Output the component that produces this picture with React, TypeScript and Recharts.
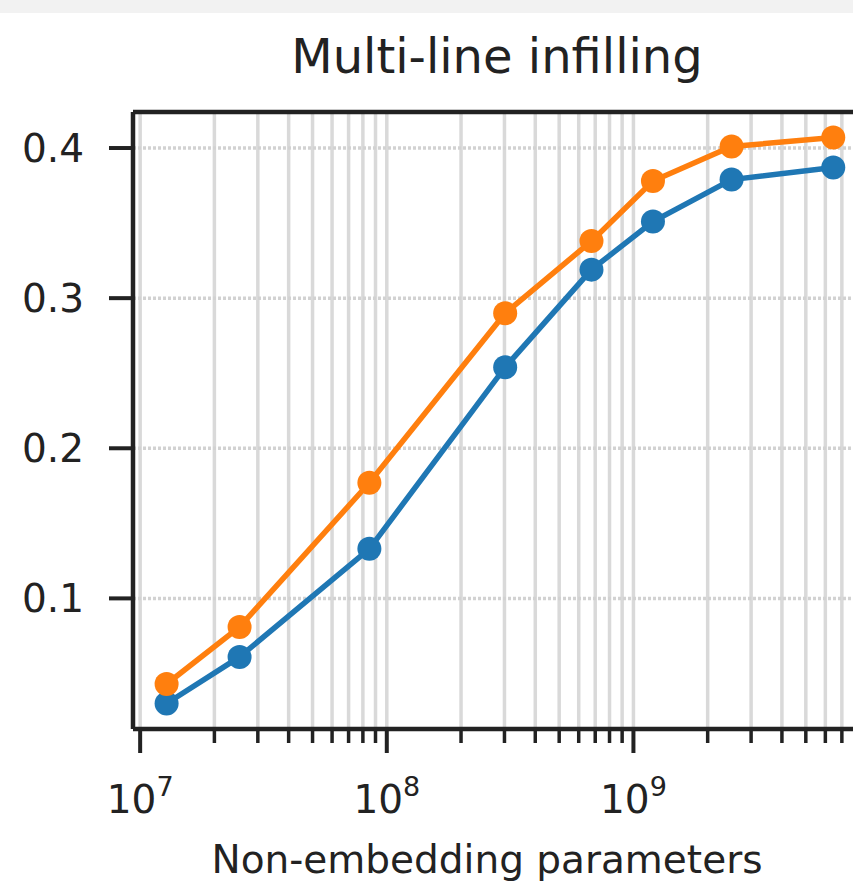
import React from 'react'
import { LineChart, Line, XAxis, YAxis, CartesianGrid, ReferenceLine } from 'recharts'

const PARAMS = [1.28e7, 2.53e7, 8.5e7, 3.02e8, 6.76e8, 1.2e9, 2.5e9, 6.46e9]
const BLUE = [0.030, 0.061, 0.133, 0.254, 0.319, 0.351, 0.379, 0.387]
const ORANGE = [0.043, 0.081, 0.177, 0.290, 0.338, 0.378, 0.401, 0.407]

const X_MAJOR = [1e7, 1e8, 1e9]
const X_MINOR = [
  2e7, 3e7, 4e7, 5e7, 6e7, 7e7, 8e7, 9e7,
  2e8, 3e8, 4e8, 5e8, 6e8, 7e8, 8e8, 9e8,
  2e9, 3e9, 4e9, 5e9, 6e9, 7e9, 8e9,
]
const Y_TICKS = [0.1, 0.2, 0.3, 0.4]

const X_DOMAIN = [Math.pow(10, 6.971), Math.pow(10, 9.945)]
const Y_DOMAIN = [0.013, 0.424]

const data = PARAMS.map((p, i) => ({ params: p, blue: BLUE[i], orange: ORANGE[i] }))

const FONT = '"DejaVu Sans", sans-serif'
const INK = '#222'

function XTick(props: any) {
  const { x, y, payload } = props
  const major = X_MAJOR.includes(payload.value)
  const exp = Math.round(Math.log10(payload.value))
  return (
    <g>
      <line x1={x} x2={x} y1={y} y2={y + (major ? 24 : 14)} stroke={INK} strokeWidth={major ? 4 : 3.5} />
      {major && (
        <text x={x} y={y + 84} textAnchor="middle" fontFamily={FONT} fontSize={39} fill={INK}>
          <tspan>10</tspan>
          <tspan dy={-17} fontSize={27}>{exp}</tspan>
        </text>
      )}
    </g>
  )
}

function YTick(props: any) {
  const { x, y, payload } = props
  return (
    <g>
      <line x1={x - 24} x2={x} y1={y} y2={y} stroke={INK} strokeWidth={4} />
      <text x={x - 49} y={y + 14} textAnchor="end" fontFamily={FONT} fontSize={39} fill={INK}>
        {payload.value.toFixed(1)}
      </text>
    </g>
  )
}

export default function App() {
  return (
    <div style={{ position: 'relative', width: 853, height: 891, overflow: 'hidden', background: '#fff' }}>
      <style>{'body{margin:0}'}</style>
      <div style={{ position: 'absolute', left: 0, top: 0, width: 853, height: 13, background: '#f2f2f2' }} />
      <div style={{ position: 'absolute', left: 0, top: 0 }}>
        <LineChart width={870} height={891} data={data} margin={{ top: 112, right: 3.5, bottom: 0, left: 0 }}>
          <CartesianGrid
            horizontal={false}
            vertical
            verticalValues={[...X_MAJOR, ...X_MINOR]}
            stroke="#d9d9d9"
            strokeWidth={3.5}
          />
          <CartesianGrid
            horizontal
            vertical={false}
            horizontalValues={Y_TICKS}
            stroke="#d2d2d2"
            strokeWidth={3.5}
            strokeDasharray="3 2"
          />
          <XAxis
            dataKey="params"
            type="number"
            scale="log"
            domain={X_DOMAIN}
            allowDataOverflow
            ticks={[...X_MAJOR, ...X_MINOR]}
            interval={0}
            height={162}
            tickSize={0}
            tickMargin={0}
            tickLine={false}
            axisLine={{ stroke: INK, strokeWidth: 4.5 }}
            tick={<XTick />}
          />
          <YAxis
            type="number"
            domain={Y_DOMAIN}
            allowDataOverflow
            ticks={Y_TICKS}
            interval={0}
            width={133}
            tickSize={0}
            tickMargin={0}
            tickLine={false}
            axisLine={{ stroke: INK, strokeWidth: 4.5 }}
            tick={<YTick />}
          />
          <ReferenceLine y={Y_DOMAIN[1]} stroke={INK} strokeWidth={4.5} />
          <Line
            dataKey="blue"
            stroke="#1f77b4"
            strokeWidth={5.5}
            dot={{ r: 12, fill: '#1f77b4', stroke: '#1f77b4', strokeWidth: 0 }}
            isAnimationActive={false}
          />
          <Line
            dataKey="orange"
            stroke="#ff7f0e"
            strokeWidth={5.5}
            dot={{ r: 12, fill: '#ff7f0e', stroke: '#ff7f0e', strokeWidth: 0 }}
            isAnimationActive={false}
          />
        </LineChart>
      </div>
      <div style={{ position: 'absolute', left: 0, top: 28, width: 994, textAlign: 'center', fontFamily: FONT, fontSize: 48, color: INK, lineHeight: '56px' }}>
        Multi-line infilling
      </div>
      <div style={{ position: 'absolute', left: 0, top: 836, width: 974, textAlign: 'center', fontFamily: FONT, fontSize: 39, color: INK, lineHeight: '48px' }}>
        Non-embedding parameters
      </div>
    </div>
  )
}
